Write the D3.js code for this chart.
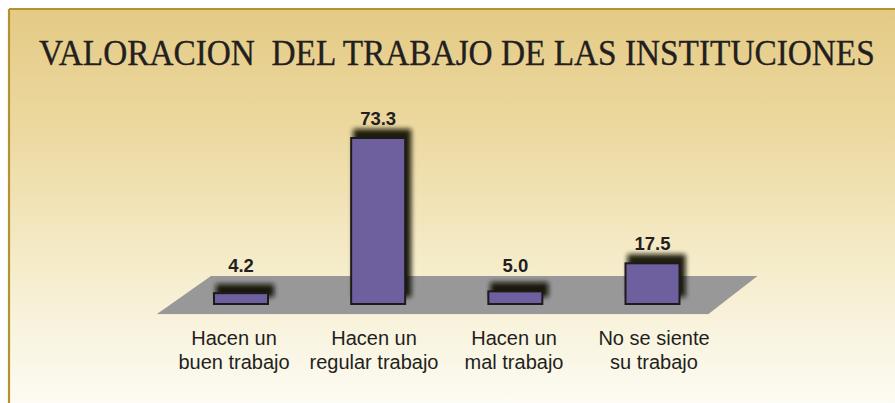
<!DOCTYPE html>
<html>
<head>
<meta charset="utf-8">
<script src="https://cdn.jsdelivr.net/npm/d3@7"></script>
<style>
  html, body { margin: 0; padding: 0; background: #ffffff; }
  svg { display: block; }
</style>
</head>
<body>
<div id="chart"></div>
<script>
// ---- data ----
const title = "VALORACION  DEL TRABAJO DE LAS INSTITUCIONES";
const categories = ["buen", "regular", "mal", "nosiente"];
const categoryLines = [
  ["Hacen un", "buen trabajo"],
  ["Hacen un", "regular trabajo"],
  ["Hacen un", "mal trabajo"],
  ["No se siente", "su trabajo"]
];
const values = [4.2, 73.3, 5.0, 17.5];
const valueLabels = ["4.2", "73.3", "5.0", "17.5"];

// ---- layout ----
const W = 895, H = 403;
const frame = { x: 9, y: 9 };
const barWidth = 56;
const floorTop = 276, floorBottom = 314, barBase = 305;

const svg = d3.select("#chart").append("svg")
  .attr("width", W).attr("height", H);

const defs = svg.append("defs");
const grad = defs.append("linearGradient")
  .attr("id", "bg").attr("x1", 0).attr("y1", 0).attr("x2", 0).attr("y2", 1);
[[0, "#e4ca85"], [0.3, "#ecd9a0"], [0.6, "#f4eac6"], [0.8, "#f9f4df"], [1, "#fdfcf6"]]
  .forEach(([o, c]) => grad.append("stop").attr("offset", o).attr("stop-color", c));

const blur = defs.append("filter").attr("id", "shadow")
  .attr("x", "-50%").attr("y", "-50%").attr("width", "200%").attr("height", "200%");
blur.append("feGaussianBlur").attr("stdDeviation", 2.8);

// background + frame
svg.append("rect").attr("x", frame.x).attr("y", frame.y)
  .attr("width", W - frame.x + 10).attr("height", H - frame.y + 10)
  .attr("fill", "url(#bg)");
svg.append("line").attr("x1", frame.x).attr("x2", W).attr("y1", frame.y).attr("y2", frame.y)
  .attr("stroke", "#b3922f").attr("stroke-width", 2.2);
svg.append("line").attr("x1", frame.x).attr("x2", frame.x).attr("y1", frame.y).attr("y2", H)
  .attr("stroke", "#b3922f").attr("stroke-width", 2.2);

// title (horizontally condensed serif)
const titleText = svg.append("text")
  .attr("font-family", "'Liberation Serif', 'Times New Roman', serif")
  .attr("font-size", 36)
  .attr("fill", "#231f20")
  .attr("stroke", "#231f20").attr("stroke-width", 0.35)
  .style("white-space", "pre")
  .text(title);
const tLen = titleText.node().getComputedTextLength();
titleText.attr("transform", `translate(39,65) scale(${836 / tLen},1)`);

// scales
const x = d3.scalePoint().domain(categories).range([241, 652.5]);
const xLabel = d3.scalePoint().domain(categories).range([234, 654]);
const y = d3.scaleLinear().domain([0, 73.3]).range([301.6, 137]);

// floor (parallelogram)
const fx0 = x(categories[0]) - barWidth / 2 - 2;
const fx1 = x(categories[categories.length - 1]) + barWidth / 2 + 77;
const skew = 54;
svg.append("path")
  .attr("d", `M${fx0},${floorTop} L${fx1},${floorTop} L${fx1 - 49},${floorBottom} L${fx0 - skew},${floorBottom} Z`)
  .attr("fill", "#989898");
svg.append("line")
  .attr("x1", fx0 - skew).attr("x2", fx1 - 49).attr("y1", floorBottom + 0.5).attr("y2", floorBottom + 0.5)
  .attr("stroke", "#efe9d6").attr("stroke-width", 1);

const data = categories.map((c, i) => ({ c, v: values[i], label: valueLabels[i], lines: categoryLines[i] }));

// shadows
svg.append("g").selectAll("rect").data(data).join("rect")
  .attr("x", d => x(d.c) - barWidth / 2 + 3)
  .attr("y", d => y(d.v) - 8)
  .attr("width", barWidth + 2)
  .attr("height", d => barBase - y(d.v))
  .attr("fill", "#0d0a05")
  .attr("opacity", 0.92)
  .attr("filter", "url(#shadow)");

// bars
svg.append("g").selectAll("rect").data(data).join("rect")
  .attr("x", d => x(d.c) - barWidth / 2 + 1)
  .attr("y", d => y(d.v) + 1)
  .attr("width", barWidth - 2)
  .attr("height", d => barBase - y(d.v) - 2)
  .attr("fill", "#6e609e")
  .attr("stroke", "#1e1a1a")
  .attr("stroke-width", 2);

// value labels
svg.append("g").selectAll("text").data(data).join("text")
  .attr("x", d => x(d.c))
  .attr("y", d => Math.min(y(d.v) - 12.5, floorTop - 4))
  .attr("text-anchor", "middle")
  .attr("font-family", "'Liberation Sans', Arial, sans-serif")
  .attr("font-weight", "bold")
  .attr("font-size", 18.5)
  .attr("fill", "#231f20")
  .text(d => d.label);

// category labels
const cl = svg.append("g").selectAll("text").data(data).join("text")
  .attr("x", d => xLabel(d.c))
  .attr("y", 345)
  .attr("text-anchor", "middle")
  .attr("font-family", "'Liberation Sans', Arial, sans-serif")
  .attr("font-size", 20)
  .attr("fill", "#231f20");
cl.selectAll("tspan").data(d => d.lines.map(t => ({ t, x: xLabel(d.c) }))).join("tspan")
  .attr("x", d => d.x)
  .attr("dy", (d, i) => i === 0 ? 0 : 24)
  .text(d => d.t);
</script>
</body>
</html>
